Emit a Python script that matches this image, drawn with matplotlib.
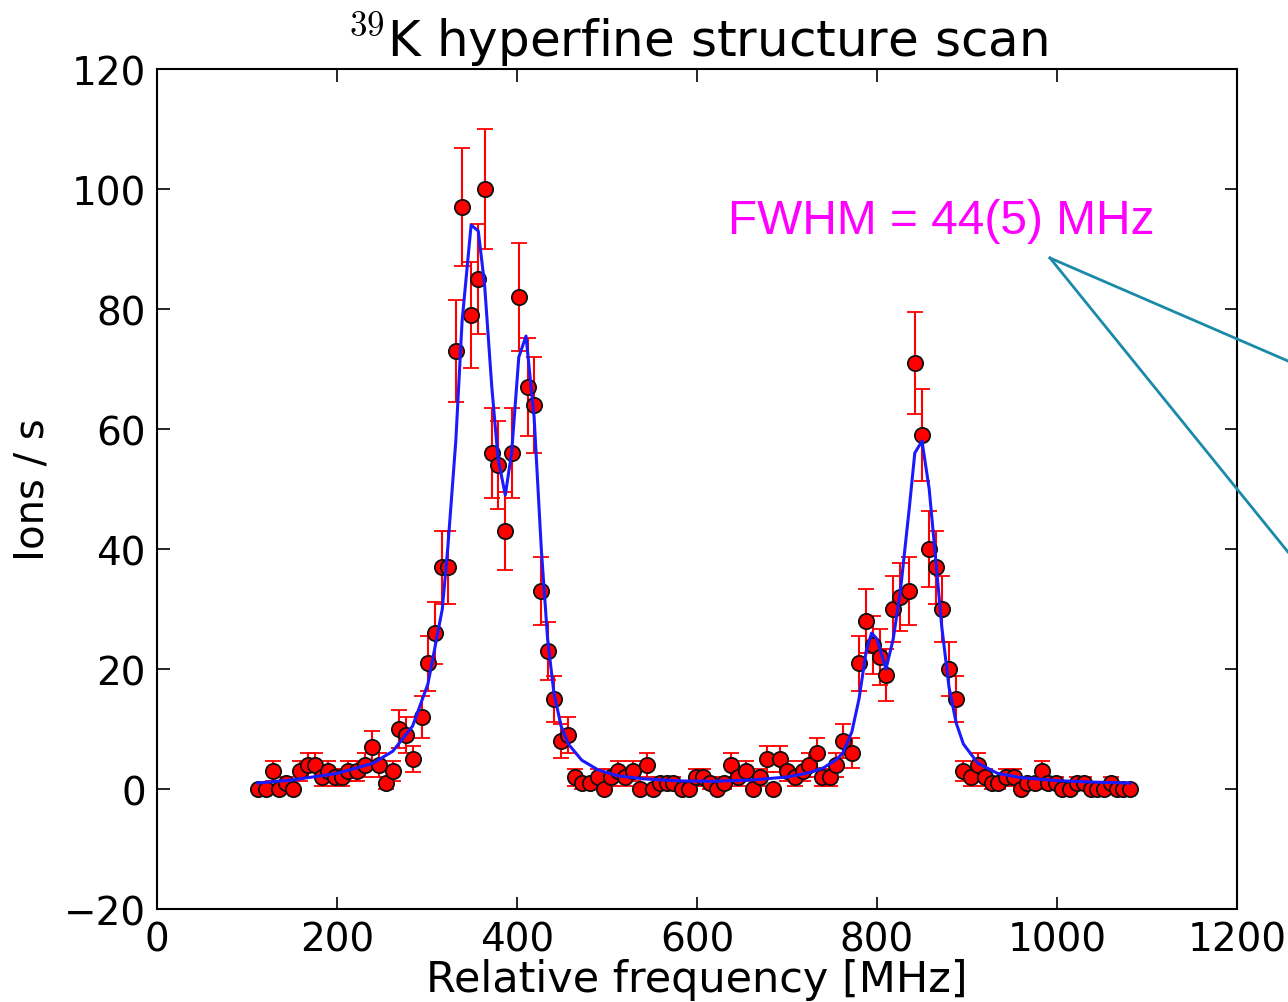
import numpy as np
import matplotlib
matplotlib.use("Agg")
import matplotlib.pyplot as plt
from matplotlib.lines import Line2D

plt.rcParams["mathtext.fontset"] = "cm"
plt.rcParams["font.family"] = ["DejaVu Sans"]

# Measured ion rate versus laser detuning
freq_mhz = [112, 121, 129, 136, 143, 151, 159, 168, 176, 183, 190, 198, 206, 212,
            222, 231, 239, 247, 254, 262, 269, 277, 284, 294, 301, 309, 317, 323,
            332, 339, 349, 357, 364, 372, 379, 387, 394, 402, 412, 419, 427, 434,
            441, 449, 457, 464, 472, 481, 490, 497, 504, 512, 520, 529, 537, 544,
            551, 559, 567, 573, 583, 591, 599, 607, 614, 622, 630, 638, 646, 654,
            662, 670, 678, 684, 692, 700, 709, 718, 724, 733, 739, 748, 754, 762,
            772, 780, 788, 796, 803, 810, 818, 826, 836, 842, 850, 858, 866, 872,
            880, 888, 896, 904, 912, 920, 928, 934, 943, 952, 960, 967, 976, 983,
            990, 999, 1006, 1014, 1022, 1030, 1038, 1044, 1052, 1060, 1067, 1073, 1081]
ion_rate = [0, 0, 3, 0, 1, 0, 3, 4, 4, 2, 3, 2, 2, 3,
            3, 4, 7, 4, 1, 3, 10, 9, 5, 12, 21, 26, 37, 37,
            73, 97, 79, 85, 100, 56, 54, 43, 56, 82, 67, 64, 33, 23,
            15, 8, 9, 2, 1, 1, 2, 0, 2, 3, 2, 3, 0, 4,
            0, 1, 1, 1, 0, 0, 2, 2, 1, 0, 1, 4, 2, 3,
            0, 2, 5, 0, 5, 3, 2, 3, 4, 6, 2, 2, 4, 8,
            6, 21, 28, 24, 22, 19, 30, 32, 33, 71, 59, 40, 37, 30,
            20, 15, 3, 2, 4, 2, 1, 1, 2, 2, 0, 1, 1, 3,
            1, 1, 0, 0, 1, 1, 0, 0, 0, 1, 0, 0, 0]
# Poisson counting uncertainty
ion_err = np.sqrt(np.array(ion_rate, dtype=float))

# Hyperfine fit curve
fit_x = [112, 150, 200, 240, 262, 284, 301, 317, 323, 332, 339, 349, 357, 364,
         372, 379, 387, 394, 402, 410, 419, 427, 434, 441, 449, 457, 472, 490,
         512, 540, 580, 620, 660, 700, 724, 740, 754, 762, 772, 780, 788, 794,
         800, 810, 818, 826, 836, 842, 850, 858, 866, 872, 880, 888, 896, 912,
         934, 960, 1000, 1040, 1081]
fit_y = [1.0, 1.5, 2.6, 4.3, 6.3, 10.5, 17.5, 30, 40, 58, 78, 94, 93, 84,
         67, 55, 49, 56, 72, 75.5, 62, 40, 25, 16, 10.5, 7.5, 4.8, 3.2,
         2.2, 1.7, 1.35, 1.3, 1.5, 2.0, 2.7, 3.5, 4.8, 6, 9.5, 15, 23, 26,
         25, 20, 25, 33, 47, 56, 58, 50, 37, 27, 17, 11, 7.5, 4.3,
         2.6, 1.9, 1.4, 1.15, 1.0]

x_ticks = [0, 200, 400, 600, 800, 1000, 1200]
y_ticks = [-20, 0, 20, 40, 60, 80, 100, 120]

fig = plt.figure(figsize=(12.88, 10.03), dpi=100)
ax = fig.add_axes([0.1219, 0.0927, 0.9604 - 0.1219, 0.9302 - 0.0927])

ax.errorbar(freq_mhz, ion_rate, yerr=ion_err, fmt="o", color="red",
            ecolor="red", elinewidth=1.5, capsize=6, capthick=1.5,
            markersize=11, markerfacecolor="red", markeredgecolor="#111111",
            markeredgewidth=1.3, zorder=2)
ax.plot(fit_x, fit_y, color="#1a1aff", linewidth=2.2, zorder=3)

ax.set_xlim(0, 1200)
ax.set_ylim(-20, 120)
ax.set_xticks(x_ticks)
ax.set_yticks(y_ticks)
ax.tick_params(direction="in", top=True, right=True, length=9, width=1.2,
               labelsize=28, pad=8)
for s in ax.spines.values():
    s.set_linewidth(1.5)

ax.set_xlabel("Relative frequency [MHz]", fontsize=31, labelpad=0)
ax.set_ylabel("Ions / s", fontsize=29, labelpad=8)
ax.set_title(r"$^{39}$K hyperfine structure scan", fontsize=36, pad=10)

fig.text(0.5652, 0.779, "FWHM = 44(5) MHz", color="#ff00ff",
         fontsize=34.5, family="Liberation Sans", ha="left", va="center")

# Pointer lines from the width label
start = (1050 / 1288, 1 - 259 / 1003)
for end in [(1.0, 1 - 362 / 1003), (1.0, 1 - 553 / 1003)]:
    fig.add_artist(Line2D([start[0], end[0]], [start[1], end[1]],
                          transform=fig.transFigure, color="#1a8aa8",
                          linewidth=2))

fig.savefig("out.png", dpi=100)
